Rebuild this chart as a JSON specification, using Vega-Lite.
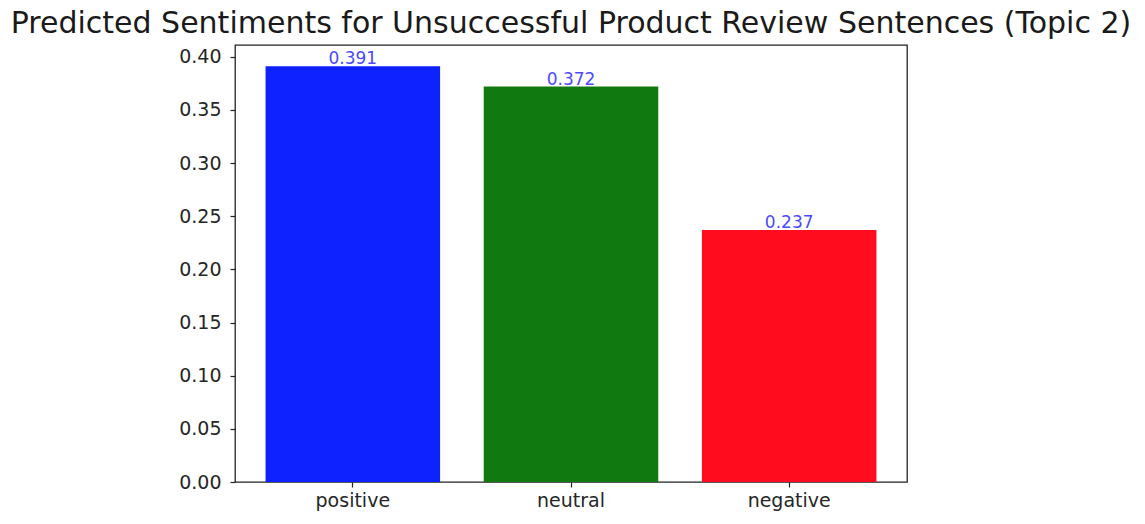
{
  "$schema": "https://vega.github.io/schema/vega-lite/v6.json",
  "width": 672,
  "height": 437,
  "autosize": {"type": "none"},
  "padding": {"left": 235, "top": 45, "right": 238, "bottom": 42},
  "background": "white",
  "title": {
    "text": "Predicted Sentiments for Unsuccessful Product Review Sentences (Topic 2)",
    "font": "DejaVu Sans",
    "fontSize": 30,
    "fontWeight": "normal",
    "color": "#1a1a1a",
    "anchor": "middle",
    "offset": 6
  },
  "config": {
    "view": {"stroke": "#222222", "strokeWidth": 1.3},
    "axis": {
      "grid": false,
      "domain": false,
      "tickColor": "#222222",
      "tickSize": 5,
      "tickWidth": 1.2,
      "labelFont": "DejaVu Sans",
      "labelFontSize": 19,
      "labelColor": "#262626",
      "labelPadding": 6
    }
  },
  "data": {
    "values": [
      {"sentiment": "positive", "value": 0.391, "label": "0.391"},
      {"sentiment": "neutral", "value": 0.372, "label": "0.372"},
      {"sentiment": "negative", "value": 0.237, "label": "0.237"}
    ]
  },
  "encoding": {
    "x": {
      "field": "sentiment",
      "type": "nominal",
      "sort": null,
      "title": null,
      "scale": {"paddingInner": 0.2, "paddingOuter": 0.14},
      "axis": {"labelAngle": 0, "labelPadding": 4}
    },
    "y": {
      "field": "value",
      "type": "quantitative",
      "title": null,
      "scale": {"domain": [0, 0.41105], "nice": false, "zero": true},
      "axis": {"values": [0, 0.05, 0.1, 0.15, 0.2, 0.25, 0.3, 0.35, 0.4], "format": ".2f", "labelPadding": 9}
    }
  },
  "layer": [
    {
      "mark": {"type": "bar"},
      "encoding": {
        "color": {
          "field": "sentiment",
          "type": "nominal",
          "legend": null,
          "scale": {"domain": ["positive", "neutral", "negative"], "range": ["#0d22ff", "#107a10", "#ff0d1e"]}
        }
      }
    },
    {
      "mark": {"type": "text", "baseline": "bottom", "dy": 2, "font": "DejaVu Sans", "fontSize": 17, "color": "#4a4aff"},
      "encoding": {"text": {"field": "label"}}
    }
  ]
}
